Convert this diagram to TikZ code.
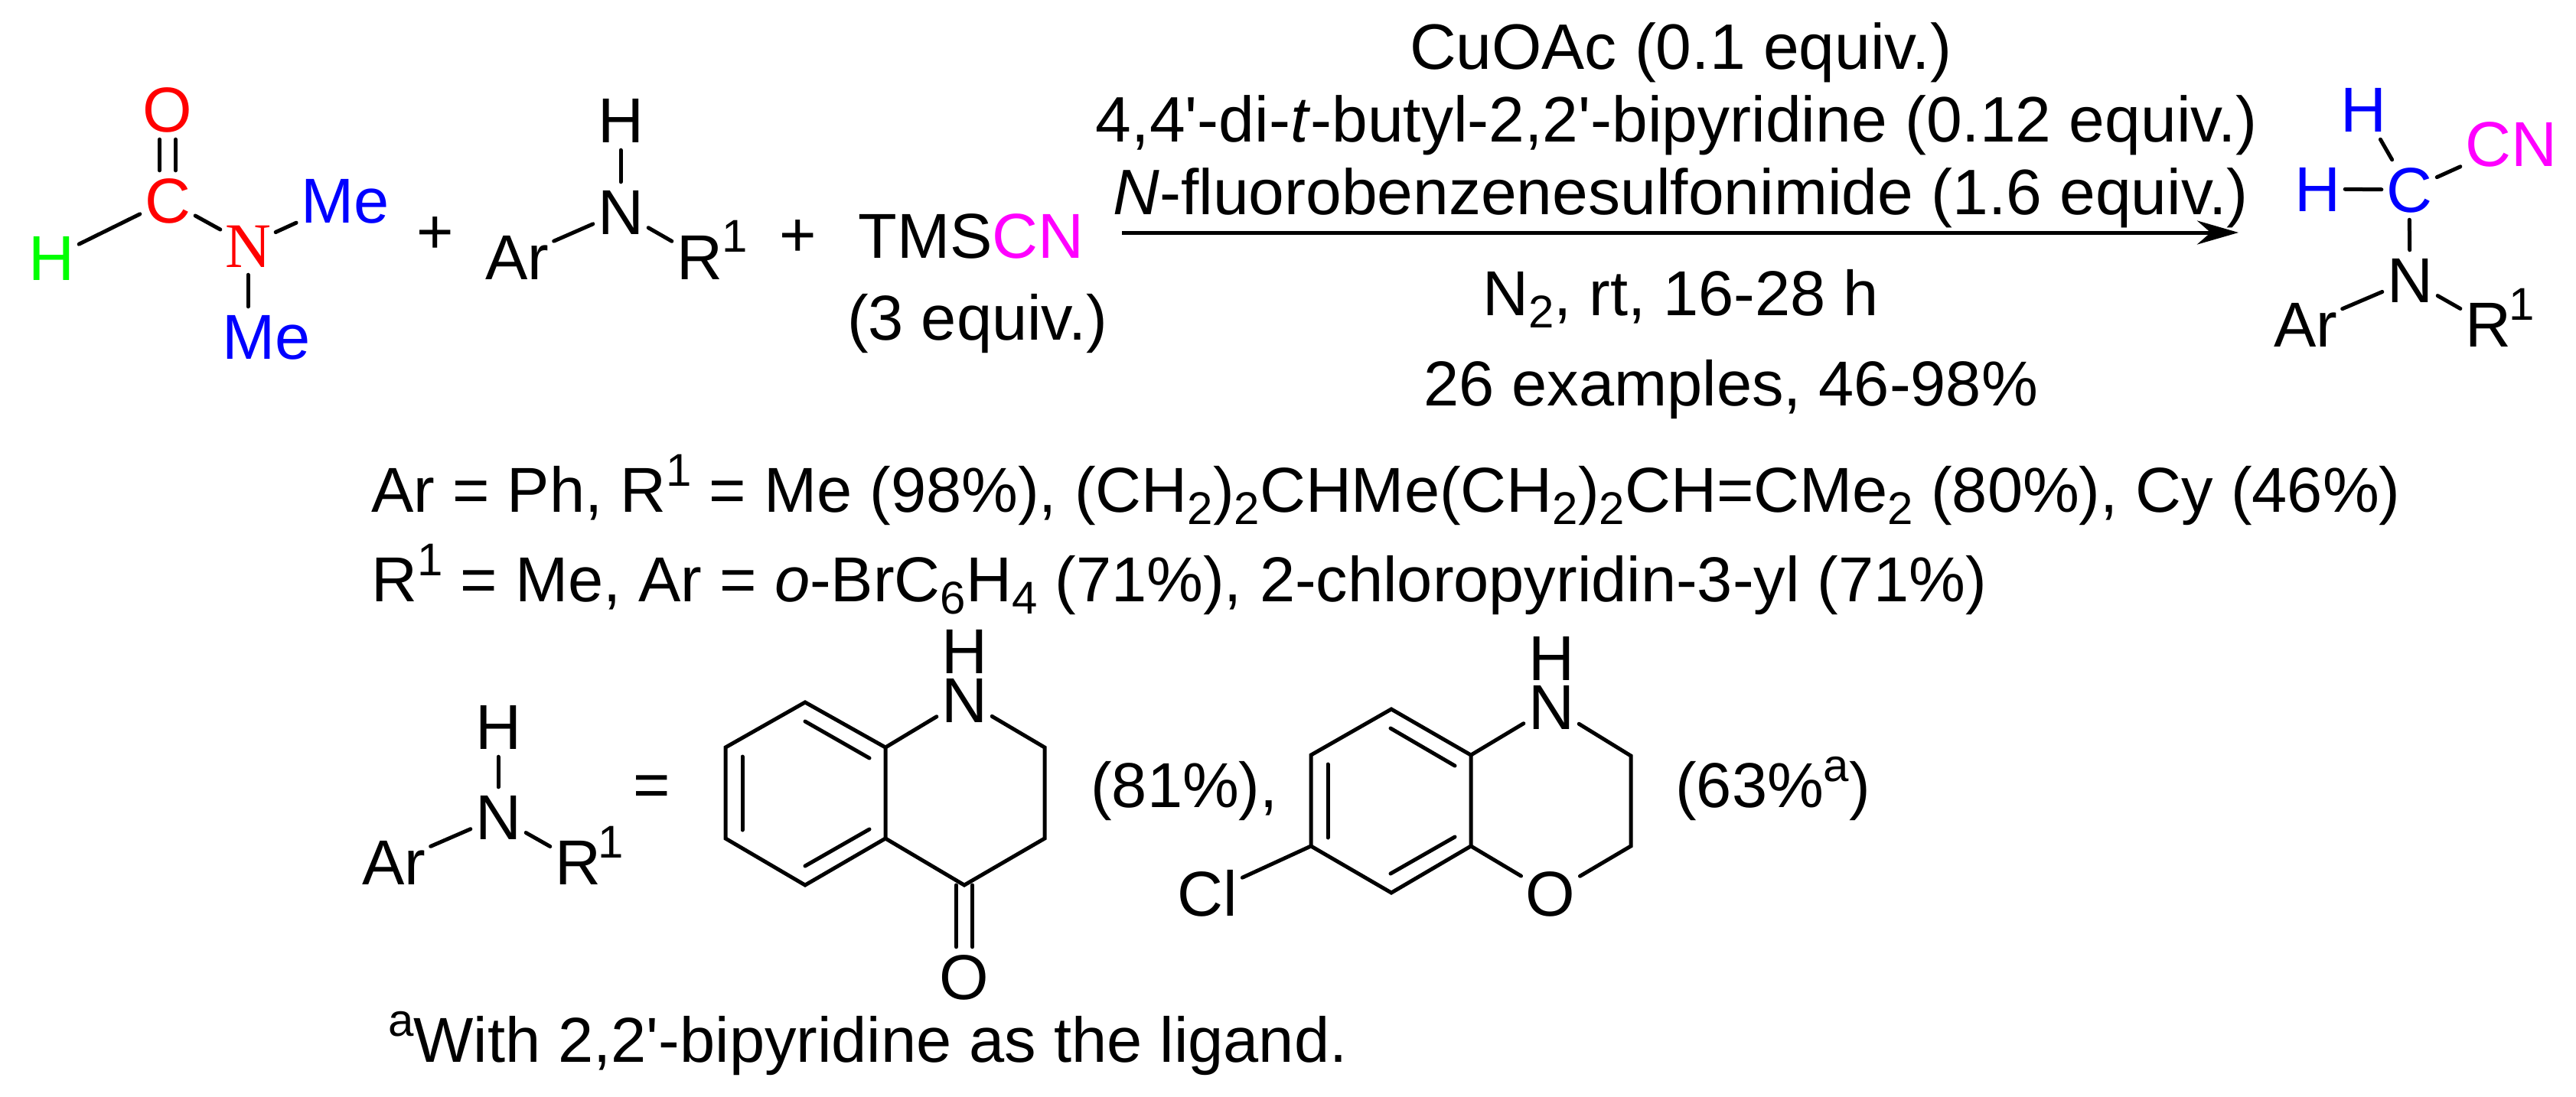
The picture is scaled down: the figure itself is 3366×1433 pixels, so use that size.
\documentclass[tikz,border=0pt]{standalone}
\usepackage{fontspec}
\setmainfont{Liberation Sans}
\newfontfamily\serifatom{Liberation Serif}
\newfontfamily\plainsans{Liberation Sans}
\usetikzlibrary{arrows.meta}
\definecolor{hgreen}{RGB}{0,255,0}
\definecolor{cnpink}{RGB}{255,0,255}
\newcommand{\bigsize}{\fontsize{83}{90}\selectfont}
\newcommand{\condsize}{\fontsize{84}{90}\selectfont}
\newcommand{\supr}[1]{\raisebox{34pt}{\fontsize{60}{60}\selectfont #1}}
\newcommand{\subr}[1]{\raisebox{-16pt}{\fontsize{60}{60}\selectfont #1}}
\newcommand{\prm}{{\plainsans'}}

\begin{document}
\begin{tikzpicture}[x=1pt,y=-1pt,
	every node/.style={font=\bigsize,inner sep=0pt},
	atom/.style={inner xsep=6pt,inner ysep=10pt,text height=58pt,text depth=0pt,anchor=center},
	stacked/.style={atom,inner ysep=2pt},
	bond/.style={line width=5pt,line cap=round,line join=miter},
	txt/.style={anchor=base},
	lefttxt/.style={anchor=base west}]
\useasboundingbox (0,0) rectangle (3366,1433);

% formamide
\node [atom,text=red] (o1) at (219,143) {O};
\node [atom,text=red] (c1) at (219,262) {C};
\node [atom,text=hgreen] (h1) at (67,337) {H};
\node [atom,text=red,font=\bigsize\serifatom] (n1) at (324,320) {N};
\node [atom,text=blue] (me1) at (451,262) {Me};
\node [atom,text=blue] (me2) at (348,440) {Me};
\draw [bond,transform canvas={xshift=-10.5pt}] (c1) -- (o1);
\draw [bond,transform canvas={xshift=10.5pt}] (c1) -- (o1);
\draw [bond] (c1) -- (h1);
\draw [bond] (c1) -- (n1);
\draw [bond] (n1) -- (me1);
\draw [bond] (n1.south) -- (n1.south |- me2.north);
\node [txt] (plus1) at (569,331) {+};

% amine
\node [atom] (h2) at (811,157) {H};
\node [atom] (n2) at (811,277) {N};
\node [atom] (ar2) at (676,336) {Ar};
\node [atom] (r2) at (914,336) {R};
\node [font=\fontsize{60}{60}\selectfont] (s2) at (960,309) {1};
\draw [bond] (n2) -- (h2);
\draw [bond] (n2) -- (ar2);
\draw [bond] (n2) -- (r2);
\node [txt] (plus2) at (1043,335) {+};
\node [txt] (tms) at (1269,337) {TMS\textcolor{cnpink}{CN}};
\node [txt] (eq3) at (1277,444) {(3 equiv.)};

% conditions
\coordinate (arrstart) at (1466,304);
\coordinate (arrend) at (2925,304);
\draw [line width=5pt,-{Stealth[length=54pt,width=31pt]}] (arrstart) -- (arrend);
\node [txt,font=\condsize] (cond1) at (2196,90) {CuOAc (0.1 equiv.)};
\node [txt,font=\condsize] (cond2) at (2191,185) {4,4\prm-di-\textit{t}-butyl-2,2\prm-bipyridine (0.12 equiv.)};
\node [txt,font=\condsize] (cond3) at (2196,280) {\textit{N}-fluorobenzenesulfonimide (1.6 equiv.)};
\node [lefttxt] (cond4) at (1937,412) {N\subr{2}, rt, 16-28 h};
\node [lefttxt] (cond5) at (1860,530) {26 examples, 46-98\%};

% product
\node [atom,text=blue] (h3) at (3088,143) {H};
\node [atom,text=blue] (h4) at (3028,247) {H};
\node [atom,text=blue] (c3) at (3148,248) {C};
\node [atom,text=cnpink] (cn3) at (3281,188) {CN};
\node [atom] (n3) at (3149,366) {N};
\node [atom] (ar3) at (3013,424) {Ar};
\node [atom] (r3) at (3251,424) {R};
\node [font=\fontsize{60}{60}\selectfont] (s3) at (3295,398) {1};
\draw [bond] (c3) -- (h3);
\draw [bond] (c3) -- (h4);
\draw [bond] (c3) -- (cn3);
\draw [bond] (c3) -- (n3);
\draw [bond] (n3) -- (ar3);
\draw [bond] (n3) -- (r3);

% scope lines
\node [lefttxt] (line1) at (485,669) {Ar = Ph, R\supr{1} = Me (98\%), (CH\subr{2})\subr{2}CHMe(CH\subr{2})\subr{2}CH=CMe\subr{2} (80\%), Cy (46\%)};
\node [lefttxt] (line2) at (485,786) {R\supr{1} = Me, Ar = \textit{o}-BrC\subr{6}H\subr{4} (71\%), 2-chloropyridin-3-yl (71\%)};

% amine again
\node [atom] (h5) at (651,950) {H};
\node [atom] (n5) at (651,1068) {N};
\node [atom] (ar5) at (515,1127) {Ar};
\node [atom] (r5) at (755,1127) {R};
\node [font=\fontsize{60}{60}\selectfont] (s5) at (798,1101) {1};
\draw [bond] (n5) -- (h5);
\draw [bond] (n5) -- (ar5);
\draw [bond] (n5) -- (r5);
\node [txt] (eq5) at (852,1054) {=};

% quinolinone
\foreach \n/\x/\y in {a1/1052/918,a2/948/977,a3/948/1096,a4/1052/1157,a5/1157/1096,a6/1157/977,a7/1365/977,a8/1365/1096,a9/1260/1157,
	d1/1052/943,d2/1136/991,d3/1052/1132,d4/1136/1084,d5/970/989,d6/970/1085}
	\coordinate (\n) at (\x,\y);
\node [stacked] (h6) at (1260,851) {H};
\node [stacked] (n6) at (1260,915) {N};
\node [atom] (o6) at (1260,1277) {O};
\draw [bond] (a6) -- (a1) -- (a2) -- (a3) -- (a4) -- (a5) -- cycle;
\draw [bond] (a6) -- (n6);
\draw [bond] (n6) -- (a7) -- (a8) -- (a9) -- (a5);
\draw [bond] (d1) -- (d2);
\draw [bond] (d3) -- (d4);
\draw [bond] (d5) -- (d6);
\draw [bond,transform canvas={xshift=-10.5pt}] (a9) -- (o6);
\draw [bond,transform canvas={xshift=10.5pt}] (a9) -- (o6);
\node [lefttxt] (yield1) at (1425,1055) {(81\%),};

% benzoxazine
\foreach \n/\x/\y in {b1/1818/927,b2/1713/987,b3/1713/1106,b4/1818/1167,b5/1922/1106,b6/1922/987,b7/2131/988,b8/2131/1106,
	e1/1817/952,e2/1901/1001,e3/1817/1142,e4/1901/1094,e5/1735/999,e6/1735/1095}
	\coordinate (\n) at (\x,\y);
\node [stacked] (h7) at (2027,860) {H};
\node [stacked] (n7) at (2027,924) {N};
\node [atom] (o7) at (2026,1168) {O};
\node [atom] (cl7) at (1578,1168) {Cl};
\draw [bond] (b6) -- (b1) -- (b2) -- (b3) -- (b4) -- (b5) -- cycle;
\draw [bond] (b6) -- (n7);
\draw [bond] (n7) -- (b7) -- (b8) -- (o7);
\draw [bond] (o7) -- (b5);
\draw [bond] (b3) -- (cl7);
\draw [bond] (e1) -- (e2);
\draw [bond] (e3) -- (e4);
\draw [bond] (e5) -- (e6);
\node [lefttxt] (yield2) at (2189,1055) {(63\%\supr{a})};

% footnote
\node [lefttxt] (foot) at (507,1388) {\supr{a}With 2,2\prm-bipyridine as the ligand.};
\end{tikzpicture}
\end{document}
